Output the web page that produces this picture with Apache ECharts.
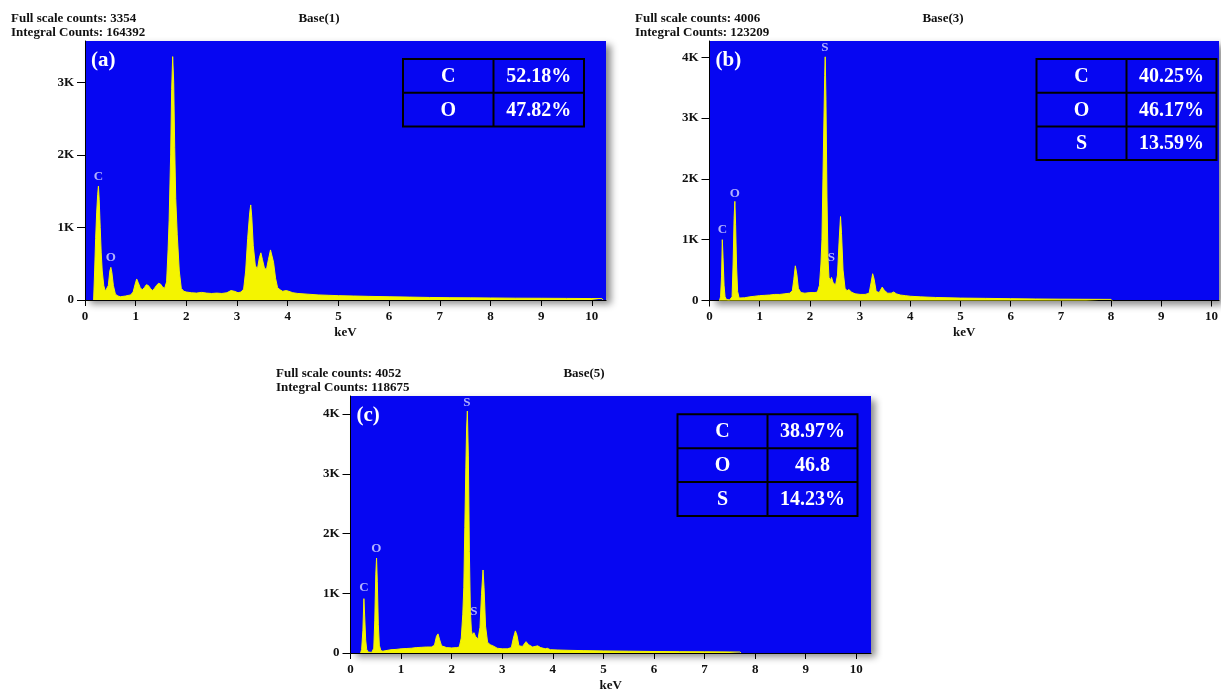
<!DOCTYPE html>
<html>
<head>
<meta charset="utf-8">
<title>EDS spectra</title>
<script src="https://cdn.jsdelivr.net/npm/echarts@6/dist/echarts.min.js"></script>
<style>
  html, body { margin: 0; padding: 0; background: #fff; }
  #chart { width: 1221px; height: 693px; }
</style>
</head>
<body>
<div id="chart"></div>
<script>
// 能谱 (a) Base(1)
const energyA = [0.17, 0.19, 0.21, 0.23, 0.25, 0.265, 0.28, 0.30, 0.32, 0.34, 0.37, 0.40, 0.43, 0.46, 0.49, 0.51, 0.53, 0.56, 0.60, 0.65,
  0.70, 0.80, 0.90, 0.95, 0.99, 1.02, 1.05, 1.09, 1.13, 1.17, 1.21, 1.25, 1.29, 1.33, 1.37, 1.41, 1.45, 1.49, 1.53, 1.57,
  1.61, 1.64, 1.66, 1.69, 1.71, 1.73, 1.75, 1.77, 1.79, 1.82, 1.86, 1.90, 1.95, 2.0, 2.1, 2.2, 2.3, 2.4, 2.5, 2.6,
  2.7, 2.8, 2.88, 2.95, 3.02, 3.08, 3.13, 3.17, 3.21, 3.25, 3.27, 3.29, 3.32, 3.36, 3.40, 3.44, 3.47, 3.50, 3.54, 3.58,
  3.62, 3.66, 3.69, 3.72, 3.76, 3.80, 3.85, 3.90, 3.97, 4.02, 4.1, 4.2, 4.4, 4.6, 4.8, 5.0, 5.3, 5.6, 6.0, 6.4,
  6.8, 7.2, 7.6, 8.0, 8.5, 9.0, 9.5, 10.0, 10.2, 10.22];
const countsA = [0, 400, 850, 1200, 1450, 1570, 1380, 1000, 650, 400, 200, 120, 100, 200, 400, 450, 380, 200, 80, 55,
  45, 55, 70, 110, 220, 290, 240, 170, 140, 170, 210, 200, 160, 130, 160, 200, 230, 220, 180, 160,
  250, 700, 1100, 2000, 2900, 3354, 3000, 2100, 1400, 900, 400, 160, 120, 110, 100, 95, 105, 95, 90, 95,
  90, 100, 130, 120, 100, 110, 150, 400, 850, 1200, 1310, 1150, 750, 480, 420, 580, 650, 560, 440, 420,
  560, 690, 680, 520, 300, 170, 140, 120, 130, 120, 100, 90, 80, 70, 65, 60, 55, 50, 45, 40,
  35, 32, 30, 28, 25, 24, 22, 20, 20, 0];

// 能谱 (b) Base(3)
const energyB = [0.20, 0.22, 0.24, 0.255, 0.27, 0.29, 0.31, 0.34, 0.40, 0.45, 0.47, 0.49, 0.505, 0.52, 0.54, 0.56, 0.59, 0.62, 0.7, 0.8,
  0.9, 1.0, 1.1, 1.2, 1.3, 1.4, 1.5, 1.6, 1.65, 1.68, 1.71, 1.74, 1.77, 1.82, 1.9, 2.0, 2.1, 2.15, 2.19, 2.22,
  2.24, 2.26, 2.28, 2.295, 2.305, 2.32, 2.34, 2.36, 2.38, 2.41, 2.43, 2.46, 2.48, 2.51, 2.55, 2.58, 2.61, 2.63, 2.66, 2.70,
  2.74, 2.78, 2.82, 2.9, 3.0, 3.1, 3.18, 3.22, 3.25, 3.28, 3.32, 3.38, 3.44, 3.48, 3.55, 3.62, 3.67, 3.72, 3.8, 3.9,
  4.0, 4.2, 4.5, 5.0, 5.5, 6.0, 6.5, 7.0, 7.5, 8.0, 8.02];
const countsB = [0, 60, 400, 1000, 700, 250, 60, 15, 10, 60, 600, 1350, 1630, 1250, 550, 150, 40, 30, 45, 60,
  70, 80, 85, 90, 100, 100, 110, 120, 160, 350, 570, 430, 200, 130, 120, 130, 130, 140, 250, 600,
  1000, 2000, 3000, 3700, 4006, 3300, 1700, 700, 380, 330, 380, 300, 320, 250, 420, 950, 1380, 1100, 500, 200,
  160, 180, 140, 110, 100, 100, 120, 300, 440, 350, 150, 130, 220, 170, 120, 120, 140, 110, 90, 80,
  70, 60, 50, 40, 35, 30, 25, 22, 20, 18, 0];

// 能谱 (c) Base(5)
const energyC = [0.20, 0.22, 0.245, 0.265, 0.28, 0.30, 0.32, 0.35, 0.42, 0.46, 0.48, 0.50, 0.515, 0.53, 0.55, 0.57, 0.60, 0.64, 0.7, 0.8,
  0.9, 1.0, 1.1, 1.2, 1.3, 1.4, 1.5, 1.6, 1.66, 1.70, 1.73, 1.76, 1.80, 1.9, 2.0, 2.1, 2.15, 2.19, 2.22, 2.24,
  2.26, 2.28, 2.295, 2.31, 2.33, 2.35, 2.37, 2.39, 2.41, 2.44, 2.47, 2.49, 2.52, 2.56, 2.59, 2.62, 2.64, 2.67, 2.71, 2.76,
  2.79, 2.84, 2.9, 3.0, 3.1, 3.18, 3.22, 3.26, 3.29, 3.33, 3.40, 3.47, 3.52, 3.60, 3.70, 3.76, 3.85, 3.89, 3.95, 4.1,
  4.3, 4.6, 5.0, 5.5, 6.0, 6.5, 7.0, 7.5, 7.7, 7.72];
const countsC = [0, 60, 380, 910, 620, 220, 60, 15, 10, 80, 550, 1320, 1590, 1200, 480, 130, 40, 30, 40, 55,
  60, 70, 75, 80, 90, 95, 100, 100, 130, 280, 320, 230, 120, 90, 85, 90, 100, 250, 650, 1100,
  2100, 3100, 3750, 4052, 3300, 1700, 700, 380, 300, 340, 280, 310, 230, 430, 980, 1390, 1100, 450, 180, 140,
  160, 110, 80, 70, 70, 90, 250, 370, 300, 120, 110, 190, 140, 100, 120, 90, 70, 80, 55, 50,
  45, 40, 35, 30, 25, 22, 20, 18, 16, 0];

// 峰标注
const peaksA = [[0.265, 1700, 'C'], [0.51, 580, 'O']];
const peaksB = [[0.26, 1160, 'C'], [0.505, 1760, 'O'], [2.30, 4150, 'S'], [2.43, 700, 'S']];
const peaksC = [[0.265, 1100, 'C'], [0.51, 1750, 'O'], [2.30, 4190, 'S'], [2.44, 700, 'S']];

// 成分表
const elementsA = ['C', 'O'];
const percentsA = ['52.18%', '47.82%'];
const elementsB = ['C', 'O', 'S'];
const percentsB = ['40.25%', '46.17%', '13.59%'];
const elementsC = ['C', 'O', 'S'];
const percentsC = ['38.97%', '46.8', '14.23%'];

const fullScale = [3354, 4006, 4052];
const integral = [164392, 123209, 118675];
const baseNames = ['Base(1)', 'Base(3)', 'Base(5)'];
const panelTags = ['(a)', '(b)', '(c)'];
const xTicks = [0, 1, 2, 3, 4, 5, 6, 7, 8, 9, 10];
const yTicksA = [0, 1000, 2000, 3000];
const yTicksBC = [0, 1000, 2000, 3000, 4000];

const FONT = '"Liberation Serif", "Times New Roman", serif';
const BLUE = '#0606f2';
const YELLOW = '#f4f400';

// 布局
const panels = [
  { left: 85, top: 41, width: 521, height: 259, xMax: 10.28, yMax: 3569, yTicks: yTicksA,
    energy: energyA, counts: countsA, peaks: peaksA, elements: elementsA, percents: percentsA,
    headX: 11, headY: 18.3, baseX: 319, table: { x: 403, y: 59, colW: 90.5, rowH: 33.7 } },
  { left: 709.5, top: 41, width: 511.5, height: 259.5, xMax: 10.15, yMax: 4266, yTicks: yTicksBC,
    energy: energyB, counts: countsB, peaks: peaksB, elements: elementsB, percents: percentsB,
    headX: 635, headY: 18.3, baseX: 943, table: { x: 1036.5, y: 59, colW: 90, rowH: 33.7 } },
  { left: 350.5, top: 396, width: 520.5, height: 259.7, xMax: 10.29, yMax: 4303, yTicks: yTicksBC,
    energy: energyC, counts: countsC, peaks: peaksC, elements: elementsC, percents: percentsC,
    headX: 276, headY: 373.5, baseX: 584, table: { x: 677.5, y: 414.3, colW: 90, rowH: 33.9 } }
];

const chart = echarts.init(document.getElementById('chart'));

const grid = [], xAxis = [], yAxis = [], series = [], graphic = [];

panels.forEach((p, i) => {
  grid.push({
    left: p.left, top: p.top, width: p.width, height: p.height,
    show: true, backgroundColor: BLUE, borderWidth: 0,
    shadowColor: 'rgba(0,0,0,0.45)', shadowBlur: 7, shadowOffsetX: 5, shadowOffsetY: 4
  });
  xAxis.push({
    type: 'value', gridIndex: i, min: 0, max: p.xMax,
    name: 'keV', nameLocation: 'middle', nameGap: 26,
    nameTextStyle: { fontFamily: FONT, fontWeight: 'bold', fontSize: 13, color: '#111' },
    axisLine: { show: true, onZero: false, lineStyle: { color: '#000', width: 1.2 } },
    axisTick: { show: true, length: 6, customValues: xTicks, lineStyle: { color: '#000' } },
    axisLabel: { customValues: xTicks, margin: 10, fontFamily: FONT, fontWeight: 'bold', fontSize: 13, color: '#111' },
    splitLine: { show: false }
  });
  yAxis.push({
    type: 'value', gridIndex: i, min: 0, max: p.yMax,
    axisLine: { show: true, lineStyle: { color: '#000', width: 1 } },
    axisTick: { show: true, length: 8, customValues: p.yTicks, lineStyle: { color: '#000' } },
    axisLabel: {
      customValues: p.yTicks, margin: 11, fontFamily: FONT, fontWeight: 'bold', fontSize: 13, color: '#111',
      formatter: v => v === 0 ? '0' : (v / 1000) + 'K'
    },
    splitLine: { show: false }
  });
  series.push({
    type: 'line', xAxisIndex: i, yAxisIndex: i,
    data: p.energy.map((e, k) => [e, p.counts[k]]),
    showSymbol: false, symbol: 'none', smooth: false,
    lineStyle: { color: YELLOW, width: 1 },
    areaStyle: { color: YELLOW, opacity: 1 },
    itemStyle: { color: YELLOW },
    clip: true, silent: true
  });
  series.push({
    type: 'scatter', xAxisIndex: i, yAxisIndex: i,
    data: p.peaks, symbolSize: 1, itemStyle: { color: 'rgba(0,0,0,0)' }, silent: true, z: 5,
    label: {
      show: true, position: 'inside', formatter: d => d.value[2],
      fontFamily: FONT, fontWeight: 'bold', fontSize: 13, color: '#dcdcff'
    }
  });

  // 表头文字
  graphic.push({ type: 'text', x: p.headX, y: p.headY, silent: true,
    style: { text: 'Full scale counts: ' + fullScale[i], font: 'bold 13px ' + FONT, fill: '#111', verticalAlign: 'middle' } });
  graphic.push({ type: 'text', x: p.headX, y: p.headY + 14.3, silent: true,
    style: { text: 'Integral Counts: ' + integral[i], font: 'bold 13px ' + FONT, fill: '#111', verticalAlign: 'middle' } });
  graphic.push({ type: 'text', x: p.baseX, y: p.headY, silent: true,
    style: { text: baseNames[i], font: 'bold 13px ' + FONT, fill: '#111', align: 'center', verticalAlign: 'middle' } });
  graphic.push({ type: 'text', x: p.left + 6, y: p.top + 20, silent: true, z: 10,
    style: { text: panelTags[i], font: 'bold 21px ' + FONT, fill: '#fff', verticalAlign: 'middle' } });

  // 成分表
  const t = p.table;
  const rows = p.elements.length;
  graphic.push({ type: 'rect', silent: true, z: 10,
    shape: { x: t.x, y: t.y, width: t.colW * 2, height: t.rowH * rows },
    style: { fill: 'none', stroke: '#000', lineWidth: 2 } });
  graphic.push({ type: 'line', silent: true, z: 10,
    shape: { x1: t.x + t.colW, y1: t.y, x2: t.x + t.colW, y2: t.y + t.rowH * rows },
    style: { stroke: '#000', lineWidth: 2 } });
  for (let r = 0; r < rows; r++) {
    if (r > 0) {
      graphic.push({ type: 'line', silent: true, z: 10,
        shape: { x1: t.x, y1: t.y + t.rowH * r, x2: t.x + t.colW * 2, y2: t.y + t.rowH * r },
        style: { stroke: '#000', lineWidth: 2 } });
    }
    const cy = t.y + t.rowH * (r + 0.5) + 1;
    graphic.push({ type: 'text', x: t.x + t.colW * 0.5, y: cy, silent: true, z: 11,
      style: { text: p.elements[r], font: 'bold 20px ' + FONT, fill: '#fff', align: 'center', verticalAlign: 'middle' } });
    graphic.push({ type: 'text', x: t.x + t.colW * 1.5, y: cy, silent: true, z: 11,
      style: { text: p.percents[r], font: 'bold 20px ' + FONT, fill: '#fff', align: 'center', verticalAlign: 'middle' } });
  }
});

chart.setOption({
  animation: false,
  grid: grid,
  xAxis: xAxis,
  yAxis: yAxis,
  series: series,
  graphic: graphic
});
</script>
</body>
</html>
